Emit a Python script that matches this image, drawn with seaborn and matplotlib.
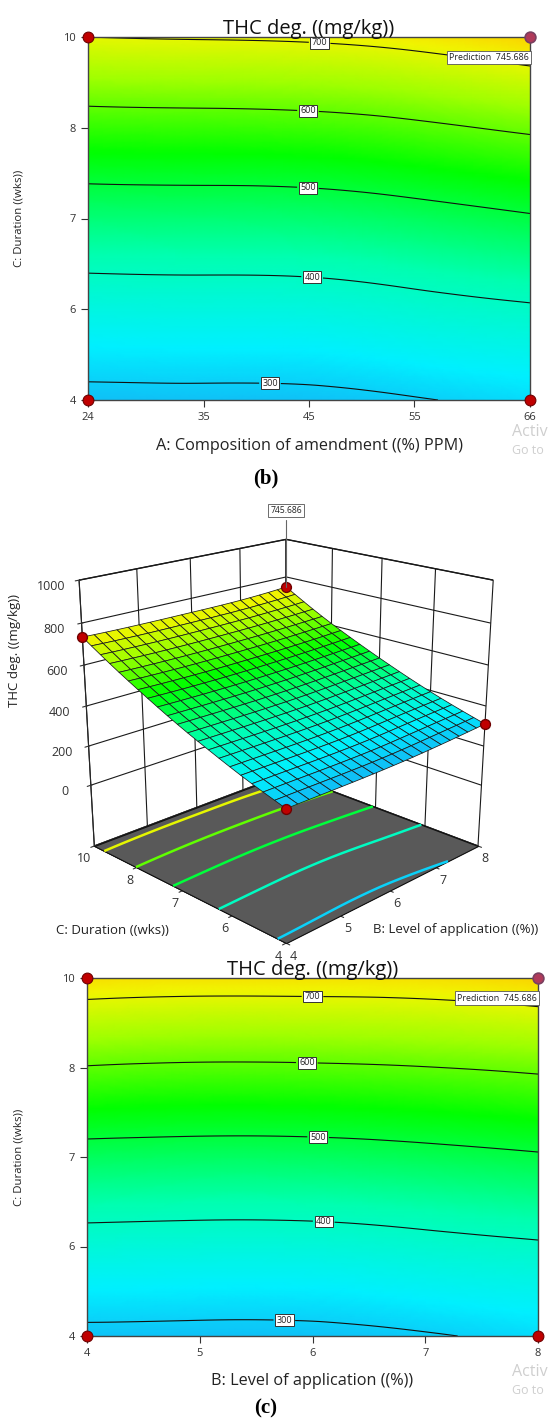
import numpy as np
import matplotlib
matplotlib.use("Agg")
import matplotlib.pyplot as plt
import matplotlib.tri as mtri
from matplotlib.colors import LinearSegmentedColormap, Normalize
from mpl_toolkits.mplot3d.art3d import Poly3DCollection
import seaborn as sns

# ---------------- data ----------------
title = "THC deg. ((mg/kg))"
C_vals = [4, 5, 6, 7, 8, 9, 10]            # C: Duration grid (axis position units)
C_tick_pos = [4, 5.5, 7, 8.5, 10]
C_tick_labels = ["4", "6", "7", "8", "10"]

# panel (b): A (composition) x C (duration)
A_vals = [24, 35, 45, 55, 66]
thc_b_A24 = [285, 336, 394, 459, 532, 612, 700]
thc_b_A35 = [286, 338, 396, 461, 534, 615, 704]
thc_b_A45 = [287, 340, 398, 464, 537, 619, 708]
thc_b_A55 = [297, 352, 410, 476, 550, 631, 721]
thc_b_A66 = [311, 364, 425, 494, 569, 652, 746]
A_ticks = [24, 35, 45, 55, 66]

# panel (c) and 3D surface: B (level of application) x C (duration)
B_vals = [4, 5, 6, 7, 8]
thc_c_B4 = [288, 343, 407, 477, 556, 641, 734]
thc_c_B5 = [286, 341, 404, 474, 551, 636, 729]
thc_c_B6 = [287, 342, 405, 475, 552, 637, 729]
thc_c_B7 = [296, 353, 414, 483, 558, 642, 732]
thc_c_B8 = [311, 364, 425, 494, 569, 652, 746]
B_ticks = [4, 5, 6, 7, 8]

contour_levels = [300, 400, 500, 600, 700]
prediction = 745.686
z_ticks = [0, 200, 400, 600, 800, 1000]

# contour label anchor points (x, C)
labels_b = [(46, 9.87), (44.9, 8.76), (44.9, 7.52), (45.3, 6.03), (41.3, 4.33)]
labels_c = [(6.0, 9.75), (5.95, 8.58), (6.05, 7.34), (6.1, 5.93), (5.75, 4.25)]

# ---------------- style ----------------
sns.set_style("white")
plt.rcParams["font.family"] = ["Open Sans", "DejaVu Sans"]
plt.rcParams["grid.color"] = "#1a1a1a"
plt.rcParams["grid.linewidth"] = 0.8

cmap_vals = [250, 330, 420, 540, 640, 710, 760]
cmap_cols = ["#1a9cf0", "#00f0ff", "#00ffb0", "#00ff00", "#a0ff00", "#f0f500", "#ffc800"]
norm = Normalize(vmin=cmap_vals[0], vmax=cmap_vals[-1])
cmap = LinearSegmentedColormap.from_list(
    "de", [((v - cmap_vals[0]) / (cmap_vals[-1] - cmap_vals[0]), c) for v, c in zip(cmap_vals, cmap_cols)])

fig = plt.figure(figsize=(5.6, 14.23), dpi=100)


def draw_contour(ax, xs, cols, xticks, xlabel, label_pos, ylab_x, xlab_y):
    x0, x1 = xs[0], xs[-1]
    c0, c1 = C_vals[0], C_vals[-1]
    X, Y = np.meshgrid(xs, C_vals)
    Z = np.array(cols, dtype=float).T
    tn = mtri.Triangulation(((X - x0) / (x1 - x0)).ravel(), ((Y - c0) / (c1 - c0)).ravel())
    tr, zr = mtri.UniformTriRefiner(tn).refine_field(Z.ravel(), subdiv=4)
    t2 = mtri.Triangulation(x0 + tr.x * (x1 - x0), c0 + tr.y * (c1 - c0), tr.triangles)
    ax.tripcolor(t2, zr, shading="gouraud", cmap=cmap, norm=norm, rasterized=True, zorder=1)
    cs = ax.tricontour(t2, zr, levels=contour_levels, colors="#111111", linewidths=0.8, zorder=2)
    lbls = ax.clabel(cs, fmt="%d", fontsize=6.5, inline=True, inline_spacing=3, manual=label_pos)
    for t in lbls:
        t.set_rotation(0)
        t.set_color("#222222")
        t.set_bbox(dict(boxstyle="square,pad=0.15", fc="white", ec="#333333", lw=0.7))
    # design points and prediction point
    sns.scatterplot(x=[x0, x0, x1], y=[c0, c1, c0], ax=ax, s=60, color="#c00000",
                    edgecolor="#700000", linewidth=0.8, zorder=6, clip_on=False, legend=False)
    sns.scatterplot(x=[x1], y=[c1], ax=ax, s=60, color="#b03a5a",
                    edgecolor="#7a4060", linewidth=1.2, zorder=6, clip_on=False, legend=False)
    ax.text(0.997, 0.944, "Prediction  745.686", transform=ax.transAxes, ha="right", va="center",
            fontsize=6.4, color="#222222", zorder=7,
            bbox=dict(boxstyle="square,pad=0.25", fc="white", ec="#555555", lw=0.6))
    ax.set_xlim(x0, x1)
    ax.set_ylim(c0, c1)
    ax.set_xticks(xticks)
    ax.set_yticks(C_tick_pos)
    ax.set_yticklabels(C_tick_labels)
    ax.tick_params(direction="out", length=5, width=0.8, colors="#333333", labelsize=8,
                   left=True, bottom=True)
    for s in ax.spines.values():
        s.set_color("#444444")
        s.set_linewidth(1.0)
    ax.set_title(title, fontsize=14.5, pad=2, color="#111111")
    ax.set_xlabel(xlabel, fontsize=11.7, color="#222222")
    ax.set_ylabel("C: Duration ((wks))", fontsize=8.2, color="#222222")
    ax.yaxis.set_label_coords(ylab_x, 0.5)
    ax.xaxis.set_label_coords(0.5, xlab_y)


# ---------------- panel (b) ----------------
ax_b = fig.add_axes([88 / 560, 1 - 400 / 1423, 442 / 560, 363 / 1423])
draw_contour(ax_b, A_vals, [thc_b_A24, thc_b_A35, thc_b_A45, thc_b_A55, thc_b_A66],
             A_ticks, "A: Composition of amendment ((%) PPM)", labels_b,
             -(88 - 25) / 442, -38 / 363)

# ---------------- panel (c) ----------------
ax_c = fig.add_axes([87 / 560, 1 - 1336 / 1423, 451 / 560, 358 / 1423])
draw_contour(ax_c, B_vals, [thc_c_B4, thc_c_B5, thc_c_B6, thc_c_B7, thc_c_B8],
             B_ticks, "B: Level of application ((%))", labels_c,
             -(87 - 25) / 451, -37 / 358)

# ---------------- 3D surface ----------------
ax3 = fig.add_axes([0.0, 0.331, 1.0, 0.32], projection="3d", computed_zorder=False)
zfloor = -320
Xc, Yc = np.meshgrid(B_vals, C_vals)
Zc = np.array([thc_c_B4, thc_c_B5, thc_c_B6, thc_c_B7, thc_c_B8], dtype=float).T
tn3 = mtri.Triangulation(((Xc - 4) / 4).ravel(), ((Yc - 4) / 6).ravel())
interp = mtri.CubicTriInterpolator(tn3, Zc.ravel())
u = np.linspace(0, 1, 21)
U, V = np.meshgrid(u, u)
Zs = np.ma.filled(interp(U, V), np.nan)
Bs = B_vals[0] + (B_vals[-1] - B_vals[0]) * U
Cs = C_vals[0] + (C_vals[-1] - C_vals[0]) * V

bl, bh = B_vals[0], B_vals[-1]
cl, ch = C_vals[0], C_vals[-1]
floor = Poly3DCollection([[(bl, cl, zfloor), (bh, cl, zfloor), (bh, ch, zfloor), (bl, ch, zfloor)]],
                         facecolor="#595959", edgecolor="#111111", linewidth=0.8, zorder=1)
ax3.add_collection3d(floor)
ax3.contour(Bs, Cs, Zs, levels=contour_levels, zdir="z", offset=zfloor, cmap=cmap, norm=norm,
            linewidths=1.8, zorder=2)
ax3.plot_surface(Bs, Cs, Zs, facecolors=cmap(norm(Zs)), edgecolor="#1a1a1a", linewidth=0.55,
                 shade=False, rstride=1, cstride=1, antialiased=True, zorder=3)
ax3.scatter([bl, bh, bl], [ch, cl, cl], [thc_c_B4[-1], thc_c_B8[0], thc_c_B4[0]],
            s=50, c="#c00000", edgecolors="#700000", depthshade=False, zorder=4)
ax3.scatter([bh], [ch], [prediction], s=50, c="#c00000", edgecolors="#700000",
            depthshade=False, zorder=4)
ax3.plot([bh, bh], [ch, ch], [prediction, 1100], color="#666666", lw=0.8, zorder=5)
ax3.text(bh, ch, 1150, "745.686", fontsize=6.2, ha="center", va="center", color="#222222", zorder=6,
         bbox=dict(boxstyle="square,pad=0.25", fc="white", ec="#555555", lw=0.6))

ax3.set_xlim(bl, bh)
ax3.set_ylim(cl, ch)
ax3.set_zlim(zfloor, 1000)
ax3.set_xticks(B_ticks)
ax3.set_xticklabels([str(b) for b in B_ticks], ha="left")
ax3.set_yticks(C_tick_pos)
ax3.set_yticklabels(C_tick_labels, ha="right")
ax3.set_zticks(z_ticks)
ax3.tick_params(labelsize=9, colors="#333333")
ax3.tick_params(axis="x", pad=-5)
ax3.tick_params(axis="y", pad=-5)
for axis in (ax3.xaxis, ax3.yaxis):
    axis.set_pane_color((1, 1, 1, 1))
    axis.pane.set_edgecolor("#111111")
ax3.zaxis.set_pane_color((0.35, 0.35, 0.35, 1))
for axis in (ax3.xaxis, ax3.yaxis, ax3.zaxis):
    axis.label.set_visible(False)
    axis.offsetText.set_visible(False)
ax3.set_box_aspect((1, 1, 1), zoom=1.04)
ax3.set_proj_type("persp", focal_length=0.5)
ax3.view_init(elev=19.5, azim=-135)

fig.text(15 / 560, 1 - 650 / 1423, "THC deg. ((mg/kg))", rotation=90, fontsize=9.5,
         ha="center", va="center", color="#222222")
fig.text(112 / 560, 1 - 930 / 1423, "C: Duration ((wks))", fontsize=9.5, ha="center",
         va="center", color="#222222")
fig.text(456 / 560, 1 - 930 / 1423, "B: Level of application ((%))", fontsize=9.5,
         ha="center", va="center", color="#222222")

# ---------------- panel letters & watermark ----------------
for ytxt, letter in [(478, "(b)"), (1408, "(c)")]:
    fig.text(266 / 560, 1 - ytxt / 1423, letter, family="Liberation Serif", fontweight="bold",
             fontsize=15, ha="center", va="center", color="black")
for ytop in (432, 1372):
    fig.text(512 / 560, 1 - ytop / 1423, "Activ", fontsize=11.5, color="#cfcfcf",
             ha="left", va="center")
    fig.text(512 / 560, 1 - (ytop + 18) / 1423, "Go to", fontsize=9, color="#cfcfcf",
             ha="left", va="center")

fig.savefig("out.png", dpi=100)
